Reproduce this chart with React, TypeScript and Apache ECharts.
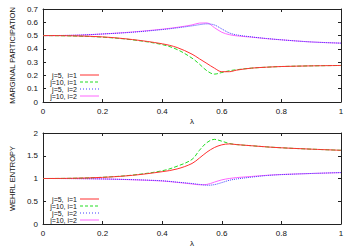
import React, { useEffect, useRef } from "react";
import * as echarts from "echarts";

const lambda = [0, 0.1, 0.2, 0.3, 0.4, 0.45, 0.5, 0.525, 0.55, 0.575, 0.6, 0.625, 0.65, 0.7, 0.75, 0.8, 0.9, 1.0];

const names = ["j=5,  i=1", "j=10, i=1", "j=5,  i=2", "j=10, i=2"];
const colors = ["#ff3030", "#22dd22", "#4040ff", "#ff66ff"];
const lineTypes = ["solid", "dashed", "dotted", "solid"];
const dashes: (number[] | null)[] = [null, [3, 2], [1, 2], null];

const mpJ5I1 = [0.5, 0.498, 0.49, 0.47, 0.438, 0.41, 0.36, 0.325, 0.29, 0.255, 0.228, 0.228, 0.24, 0.255, 0.262, 0.267, 0.272, 0.275];
const mpJ10I1 = [0.5, 0.497, 0.488, 0.468, 0.432, 0.395, 0.33, 0.285, 0.235, 0.21, 0.222, 0.235, 0.243, 0.255, 0.262, 0.267, 0.272, 0.275];
const mpJ5I2 = [0.5, 0.502, 0.512, 0.525, 0.545, 0.558, 0.573, 0.582, 0.588, 0.58, 0.55, 0.52, 0.505, 0.49, 0.478, 0.468, 0.452, 0.443];
const mpJ10I2 = [0.5, 0.502, 0.512, 0.527, 0.548, 0.562, 0.58, 0.594, 0.595, 0.56, 0.525, 0.507, 0.498, 0.488, 0.477, 0.468, 0.452, 0.443];

const weJ5I1 = [1.0, 1.005, 1.025, 1.07, 1.15, 1.21, 1.33, 1.45, 1.58, 1.68, 1.74, 1.76, 1.745, 1.72, 1.695, 1.675, 1.645, 1.62];
const weJ10I1 = [1.0, 1.005, 1.027, 1.075, 1.17, 1.27, 1.42, 1.62, 1.79, 1.86, 1.82, 1.77, 1.745, 1.72, 1.695, 1.675, 1.645, 1.62];
const weJ5I2 = [1.0, 0.998, 0.99, 0.975, 0.95, 0.92, 0.89, 0.87, 0.852, 0.865, 0.91, 0.96, 0.99, 1.03, 1.065, 1.085, 1.11, 1.13];
const weJ10I2 = [1.0, 0.998, 0.99, 0.972, 0.945, 0.915, 0.88, 0.862, 0.87, 0.92, 0.97, 1.0, 1.02, 1.045, 1.07, 1.088, 1.11, 1.13];

const topSeries = [mpJ5I1, mpJ10I1, mpJ5I2, mpJ10I2];
const bottomSeries = [weJ5I1, weJ10I1, weJ5I2, weJ10I2];

const FONT = "Liberation Sans, Arial, sans-serif";

export default function App() {
  const ref = useRef<HTMLDivElement>(null);
  useEffect(() => {
    const chart = echarts.init(ref.current!, null, { renderer: "svg" });
    const axisCommon = {
      axisLine: { show: true, onZero: false, lineStyle: { color: "#222", width: 1 } },
      axisTick: { show: true, inside: true, length: 3, lineStyle: { color: "#222" } },
      splitLine: { show: false },
    };
    const xMain = (gi: number) => ({
      type: "value", gridIndex: gi, min: 0, max: 1, interval: 0.2, position: "bottom",
      ...axisCommon,
      axisLabel: { fontSize: 8, color: "#111", fontFamily: FONT, margin: 5, formatter: (v: number) => String(+v.toFixed(1)) },
      name: "λ", nameLocation: "middle", nameGap: 15,
      nameTextStyle: { fontSize: 8, color: "#111", fontFamily: FONT },
    });
    const xTop = (gi: number) => ({
      type: "value", gridIndex: gi, min: 0, max: 1, interval: 0.2, position: "top",
      ...axisCommon, axisLabel: { show: false },
    });
    const yMain = (gi: number, max: number, interval: number, name: string) => ({
      type: "value", gridIndex: gi, min: 0, max, interval, position: "left",
      ...axisCommon,
      axisLabel: { fontSize: 8, color: "#111", fontFamily: FONT, margin: 5, formatter: (v: number) => String(+v.toFixed(1)) },
      name, nameLocation: "middle", nameGap: 23, nameRotate: 90,
      nameTextStyle: { fontSize: 7.5, color: "#111", fontFamily: FONT },
    });
    const yRight = (gi: number, max: number, interval: number) => ({
      type: "value", gridIndex: gi, min: 0, max, interval, position: "right",
      ...axisCommon, axisLabel: { show: false },
    });
    const series: any[] = [];
    [topSeries, bottomSeries].forEach((group, gi) => {
      group.forEach((vals, si) => {
        series.push({
          type: "line",
          name: names[si],
          xAxisIndex: gi * 2,
          yAxisIndex: gi * 2,
          data: lambda.map((x, k) => [x, vals[k]]),
          smooth: 0.35,
          symbol: "none",
          lineStyle: { color: colors[si], width: 1, type: lineTypes[si] },
          itemStyle: { color: colors[si] },
          z: 10 - si,
        });
      });
    });
    const legendGraphics: any[] = [];
    [75, 199].forEach((top) => {
      names.forEach((n, i) => {
        const y = top + i * 7;
        legendGraphics.push({
          type: "text", x: 77, y,
          style: {
            text: n, fill: "#111", fontSize: 7, fontFamily: FONT, lineHeight: 7,
            align: "right", verticalAlign: "middle",
          },
        });
        legendGraphics.push({
          type: "line",
          shape: { x1: 80, y1: y, x2: 99, y2: y },
          style: { stroke: colors[i], lineWidth: 1, lineDash: dashes[i] || undefined },
        });
      });
    });
    chart.setOption({
      animation: false,
      backgroundColor: "#fff",
      grid: [
        { left: 34, top: 9, width: 307, height: 93 },
        { left: 34, top: 133, width: 307, height: 93 },
      ],
      xAxis: [xMain(0), xTop(0), xMain(1), xTop(1)],
      yAxis: [
        yMain(0, 0.7, 0.1, "MARGINAL PARTICIPATION"), yRight(0, 0.7, 0.1),
        yMain(1, 2, 0.5, "WEHRL ENTROPY"), yRight(1, 2, 0.5),
      ],
      graphic: legendGraphics,
      series,
    });
    return () => chart.dispose();
  }, []);
  return <div ref={ref} style={{ position: "absolute", left: 0, top: 0, width: 354, height: 248 }} />;
}
